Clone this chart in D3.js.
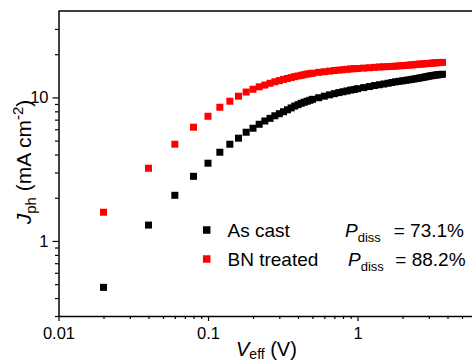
<!DOCTYPE html>
<html>
<head>
<meta charset="utf-8">
<script src="https://cdn.jsdelivr.net/npm/d3@7"></script>
<style>
  body { margin: 0; background: #fff; }
  svg { display: block; font-family: "Liberation Sans", Arial, sans-serif; }
</style>
</head>
<body>
<svg id="chart" width="472" height="360"></svg>
<script>
// effective voltage (V)
const vAsCast = [0.02, 0.04, 0.06, 0.08, 0.10, 0.12, 0.14, 0.16, 0.18, 0.20, 0.22, 0.24, 0.26, 0.28, 0.30,
  0.32, 0.34, 0.36, 0.38, 0.40, 0.42, 0.44, 0.46, 0.48, 0.50, 0.55, 0.60, 0.65, 0.70, 0.75, 0.80,
  0.85, 0.90, 0.95, 1.0, 1.1, 1.2, 1.3, 1.4, 1.5, 1.6, 1.7, 1.8, 1.9, 2.0, 2.1, 2.2, 2.3, 2.4, 2.5,
  2.6, 2.7, 2.8, 2.9, 3.0, 3.1, 3.2, 3.3, 3.4, 3.5, 3.6, 3.7];
const jAsCast = [0.475, 1.29, 2.08, 2.82, 3.48, 4.15, 4.72, 5.2, 5.72, 6.1, 6.5, 6.85, 7.15, 7.45, 7.7,
  7.95, 8.2, 8.45, 8.7, 8.9, 9.1, 9.25, 9.4, 9.55, 9.7, 9.95, 10.2, 10.42, 10.62, 10.8, 10.95,
  11.1, 11.25, 11.35, 11.5, 11.7, 11.9, 12.1, 12.25, 12.4, 12.55, 12.7, 12.85, 12.95, 13.05, 13.15, 13.25, 13.35, 13.45, 13.55,
  13.65, 13.75, 13.85, 13.95, 14.05, 14.15, 14.2, 14.3, 14.35, 14.4, 14.45, 14.5];

const vBN = vAsCast.slice();
const jBN = [1.585, 3.21, 4.72, 6.2, 7.39, 8.54, 9.41, 10.2, 10.9, 11.4, 11.85, 12.2, 12.55, 12.85, 13.1,
  13.35, 13.55, 13.75, 13.95, 14.1, 14.25, 14.4, 14.55, 14.65, 14.75, 14.95, 15.1, 15.25, 15.4, 15.5, 15.6,
  15.7, 15.8, 15.85, 15.9, 16.0, 16.1, 16.2, 16.3, 16.35, 16.4, 16.45, 16.5, 16.6, 16.65, 16.7, 16.8, 16.85, 16.9, 17.0,
  17.05, 17.1, 17.15, 17.2, 17.25, 17.3, 17.35, 17.4, 17.45, 17.5, 17.5, 17.55];

const seriesNames = ["As cast", "BN treated"];
const seriesColors = ["#000000", "#ff0000"];
const pdiss = ["73.1%", "88.2%"];

const xTicks = [0.01, 0.1, 1];
const yTicks = [1, 10];

const svg = d3.select("#chart");
const mLeft = 58.5, mTop = 11, mBottom = 316;

const x = d3.scaleLog().domain([0.01, 10]).range([mLeft, mLeft + 3 * 149.5]);
const y = d3.scaleLog().domain([0.3, 40]).range([mBottom, mTop]);

// minor ticks
const xMinor = [];
[0.01, 0.1, 1].forEach(d => { for (let k = 2; k <= 9; k++) xMinor.push(d * k); });
const yMinor = [0.3, 0.4, 0.5, 0.6, 0.7, 0.8, 0.9, 2, 3, 4, 5, 6, 7, 8, 9, 20, 30];

const xAxis = svg.append("g")
  .attr("transform", `translate(0,${mBottom})`)
  .call(d3.axisBottom(x).tickValues(xTicks).tickFormat(d3.format("")).tickSize(5).tickPadding(6));
svg.append("g")
  .attr("transform", `translate(0,${mBottom})`)
  .call(d3.axisBottom(x).tickValues(xMinor).tickFormat("").tickSize(3))
  .call(g => g.select(".domain").remove());

const yAxis = svg.append("g")
  .attr("transform", `translate(${mLeft},0)`)
  .call(d3.axisLeft(y).tickValues(yTicks).tickFormat(d3.format("")).tickSize(6).tickPadding(4));
svg.append("g")
  .attr("transform", `translate(${mLeft},0)`)
  .call(d3.axisLeft(y).tickValues(yMinor).tickFormat("").tickSize(3.5))
  .call(g => g.select(".domain").remove());

svg.selectAll(".domain").attr("stroke", "#000").attr("stroke-width", 1.5);
svg.selectAll(".tick line").attr("stroke", "#000").attr("stroke-width", 1.2);
svg.selectAll(".tick text").attr("font-size", 16.5).attr("fill", "#000")
  .attr("font-family", "Liberation Sans, Arial, sans-serif");

// plain axis lines without end caps
xAxis.select(".domain").attr("d", `M${mLeft},0.5H472`);
yAxis.select(".domain").attr("d", `M0.5,${mBottom}V${mTop}`);

// top frame
svg.append("line")
  .attr("x1", mLeft).attr("x2", 472)
  .attr("y1", mTop).attr("y2", mTop)
  .attr("stroke", "#000").attr("stroke-width", 1.5);

const ms = 7;
const datasets = [
  { v: vAsCast, j: jAsCast, color: seriesColors[0] },
  { v: vBN, j: jBN, color: seriesColors[1] }
];
datasets.forEach(ds => {
  svg.append("g").selectAll("rect")
    .data(ds.v.map((v, i) => ({ v, j: ds.j[i] })))
    .enter()
    .append("rect")
    .attr("x", d => x(d.v) - ms / 2)
    .attr("y", d => y(d.j) - ms / 2)
    .attr("width", ms)
    .attr("height", ms)
    .attr("fill", ds.color);
});

// legend
const leg = svg.append("g");
seriesNames.forEach((name, i) => {
  const yy = 230 + i * 29;
  leg.append("rect")
    .attr("x", 206.7 - 3.75).attr("y", yy - 3.75)
    .attr("width", 7.5).attr("height", 7.5)
    .attr("fill", seriesColors[i]);
  leg.append("text")
    .attr("x", 227.5).attr("y", yy + 7)
    .attr("font-size", 19)
    .text(name);
  const p = leg.append("text")
    .attr("x", i === 0 ? 345 : 348).attr("y", yy + 7)
    .attr("font-size", 19);
  p.append("tspan").attr("font-style", "italic").text("P");
  p.append("tspan").attr("font-size", 13).attr("dy", 5).text("diss");
  leg.append("text")
    .attr("x", i === 0 ? 393.7 : 395.3).attr("y", yy + 7)
    .attr("font-size", 19)
    .text("= " + pdiss[i]);
});

// axis titles
const xt = svg.append("text")
  .attr("x", 236).attr("y", 355.5)
  .attr("font-size", 20);
xt.append("tspan").attr("font-style", "italic").text("V");
xt.append("tspan").attr("font-size", 14).attr("dy", 3).text("eff");
xt.append("tspan").attr("dy", -3).text(" (V)");

const yt = svg.append("text")
  .attr("transform", "translate(31,162) rotate(-90)")
  .attr("text-anchor", "middle")
  .attr("font-size", 21);
yt.append("tspan").attr("font-style", "italic").text("J");
yt.append("tspan").attr("font-size", 15).attr("dy", 5).text("ph");
yt.append("tspan").attr("dy", -5).text(" (mA cm");
yt.append("tspan").attr("font-size", 15).attr("dy", -8).text("-2");
yt.append("tspan").attr("dy", 8).text(")");
</script>
</body>
</html>
